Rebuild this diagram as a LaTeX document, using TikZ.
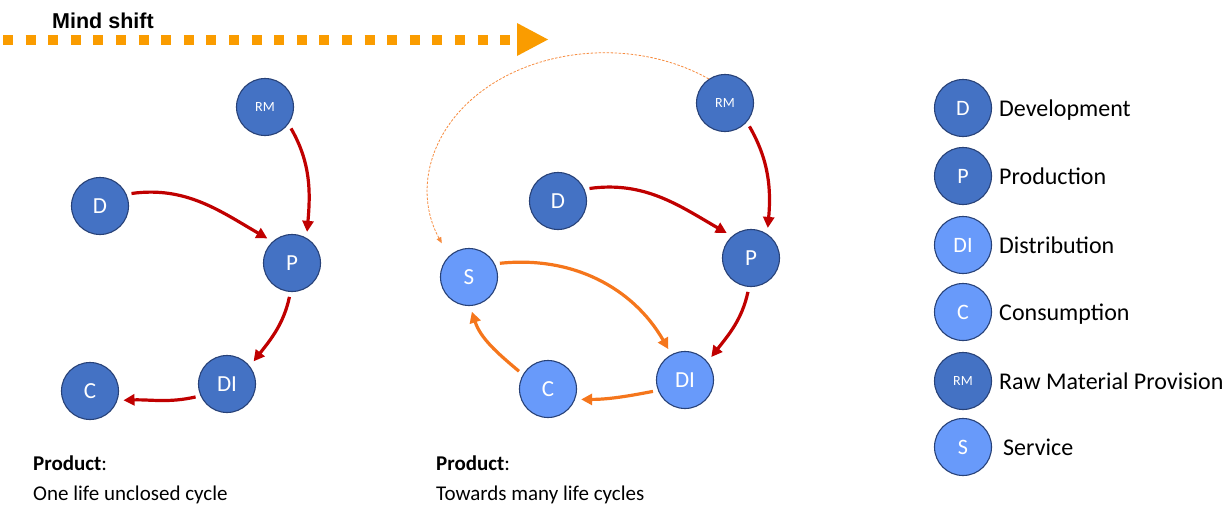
\documentclass[tikz,border=0pt]{standalone}
\usepackage{fontspec}
\setmainfont{Carlito}
\newfontfamily\headfont{Liberation Sans}
\usetikzlibrary{arrows.meta}

\definecolor{darkfill}{RGB}{68,114,196}
\definecolor{lightfill}{RGB}{104,154,250}
\definecolor{rim}{RGB}{40,66,120}
\definecolor{flowred}{RGB}{192,0,0}
\definecolor{floworange}{RGB}{245,118,28}
\definecolor{shiftorange}{RGB}{250,156,0}

\tikzset{
  stage/.style={circle, draw=rim, line width=1.1pt, minimum size=57pt, inner sep=0pt,
    text=white, font=\fontsize{23}{23}\selectfont},
  darkstage/.style={stage, fill=darkfill},
  lightstage/.style={stage, fill=lightfill},
  keysize/.style={font=\fontsize{22}{22}\selectfont},
  small/.style={font=\fontsize{14}{14}\selectfont},
  flow/.style={line width=3.2pt, -{Triangle[length=11pt,width=11pt]},
    shorten <=5pt, shorten >=6pt},
  redflow/.style={flow, draw=flowred},
  orangeflow/.style={flow, draw=floworange},
  loopback/.style={draw=floworange!85!white, line width=0.8pt, dash pattern=on 2.5pt off 1.5pt,
    -{Triangle[length=6pt,width=5pt]}},
  legendtext/.style={anchor=base west, inner sep=0pt, font=\fontsize{24}{24}\selectfont},
  caption/.style={anchor=base west, inner sep=0pt, font=\fontsize{21}{21}\selectfont},
}

\begin{document}
\begin{tikzpicture}[x=1pt,y=1pt]
\useasboundingbox (0,0) rectangle (1228,-530);

% Mind shift banner
\node[anchor=base west, inner sep=0pt, font=\headfont\bfseries\fontsize{21.5}{21.5}\selectfont] (shift) at (52,-28) {Mind shift};
\coordinate (ms0) at (3,-40);
\coordinate (ms1) at (512,-40);
\draw[shiftorange, line width=10.5pt, dash pattern=on 10pt off 12.6pt] (ms0) -- (ms1);
\fill[shiftorange] (517,-23) -- (548,-39.5) -- (517,-56) -- cycle;

% Linear chain: one life, unclosed cycle
\node[darkstage] (lD)  at (100,-206) {D};
\node[darkstage, small] (lRM) at (265,-107) {RM};
\node[darkstage] (lP)  at (292,-263) {P};
\node[darkstage] (lDI) at (227,-384) {DI};
\node[darkstage] (lC)  at (90,-391)  {C};

\draw[redflow] (lD.24) to[out=8,in=150] (lP.132);
\draw[redflow] (lRM.-36) to[out=-60,in=85] (lP.60);
\draw[redflow] (lP.-93) to[out=-102,in=52] (lDI.38);
\draw[redflow] (lDI.204) to[out=193,in=2] (lC.-19);

% Circular chain: many life cycles
\node[darkstage] (mD)  at (558,-201) {D};
\node[darkstage, small] (mRM) at (725,-103) {RM};
\node[darkstage] (mP)  at (751,-258) {P};
\node[lightstage] (mS)  at (469,-277) {S};
\node[lightstage] (mC)  at (548,-389) {C};
\node[lightstage] (mDI) at (685,-380) {DI};

\draw[redflow] (mD.24) to[out=8,in=150] (mP.131);
\draw[redflow] (mRM.-41) to[out=-60,in=85] (mP.56);
\draw[redflow] (mP.-94) to[out=-102,in=52] (mDI.39);
\draw[orangeflow] (mS.27) to[out=6,in=120] (mDI.118);
\draw[orangeflow] (mDI.201) to[out=191,in=0] (mC.-21);
\draw[orangeflow] (mC.150) to[out=140,in=-72] (mS.-88);
\draw[loopback] (mRM.124) arc[start angle=54, end angle=203, x radius=177, y radius=137];

% Legend
\node[darkstage, keysize]  (kD)  at (963,-108) {D};
\node[darkstage, keysize]  (kP)  at (963,-176) {P};
\node[lightstage, keysize] (kDI) at (963,-245) {DI};
\node[lightstage, keysize] (kC)  at (963,-312) {C};
\node[darkstage, small]    (kRM) at (963,-381) {RM};
\node[lightstage, keysize] (kS)  at (963,-447) {S};

\node[legendtext] (tD)  at (999,-116) {Development};
\node[legendtext] (tP)  at (999,-184) {Production};
\node[legendtext] (tDI) at (999,-253) {Distribution};
\node[legendtext] (tC)  at (999,-320) {Consumption};
\node[legendtext] (tRM) at (999,-389) {Raw Material Provision};
\node[legendtext] (tS)  at (1003,-455) {Service};

% Captions
\node[caption] (cap1a) at (33,-470) {\textbf{Product}:};
\node[caption] (cap1b) at (33,-500) {One life unclosed cycle};
\node[caption] (cap2a) at (436,-470) {\textbf{Product}:};
\node[caption] (cap2b) at (436,-500) {Towards many life cycles};
\end{tikzpicture}
\end{document}
